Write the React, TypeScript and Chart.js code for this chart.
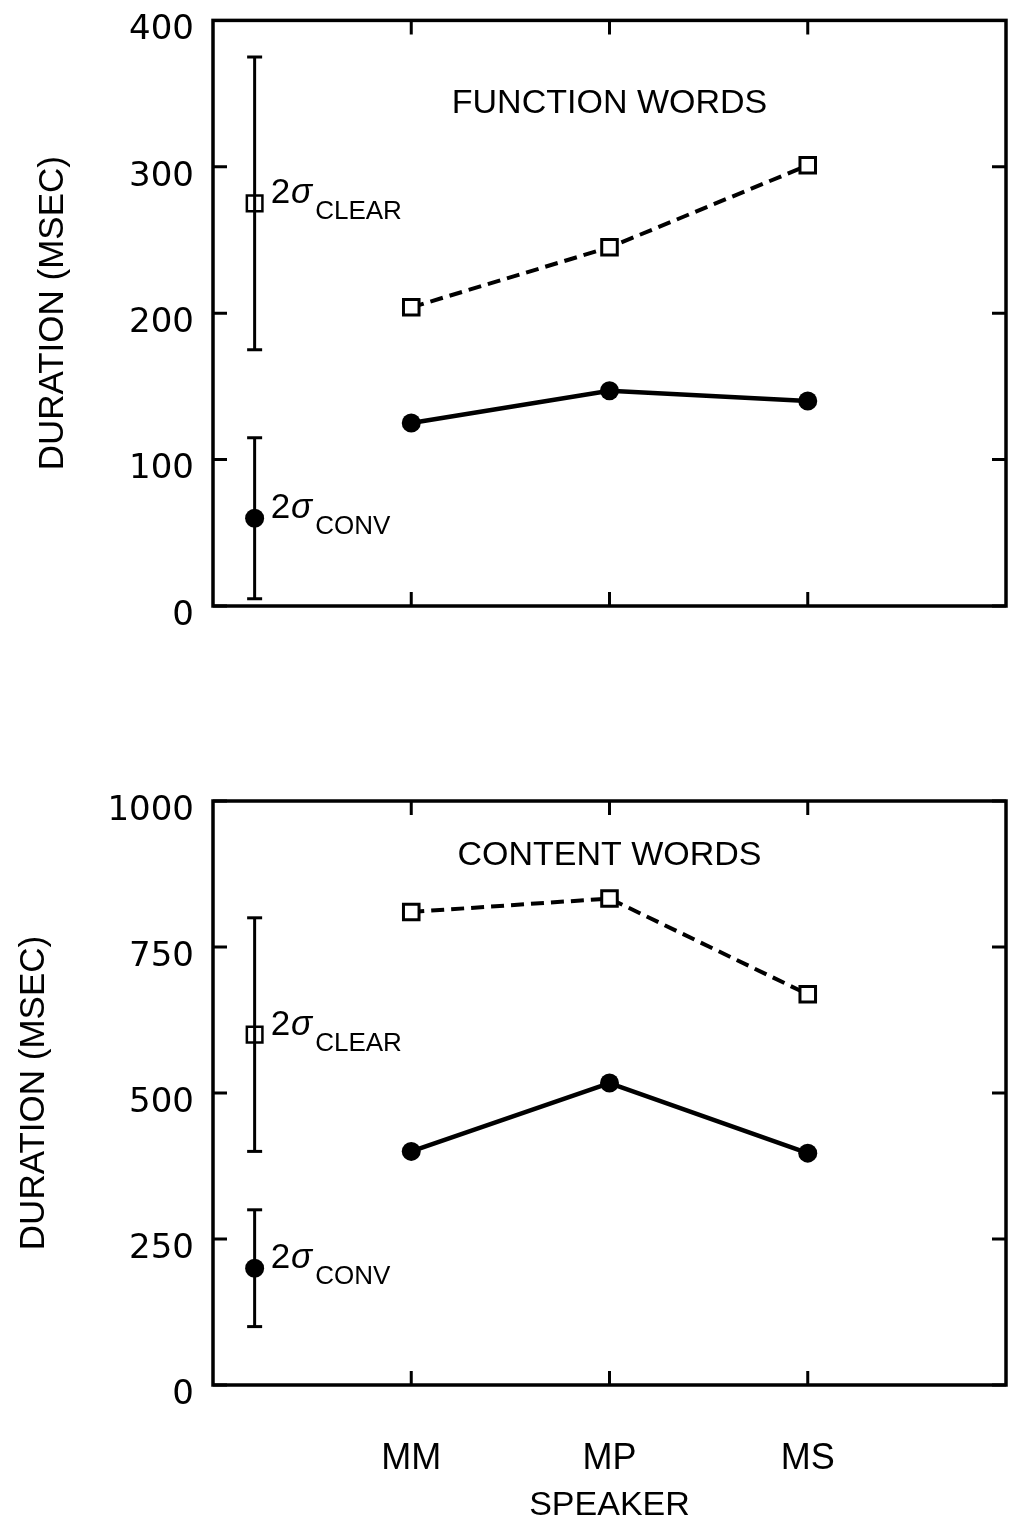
import { useEffect, useRef } from 'react';
import { Chart, registerables } from 'chart.js';

Chart.register(...registerables);

// ---------- data ----------
const speakers = ['MM', 'MP', 'MS'];
const speakerPos = [1, 2, 3];
const sigmaPos = 0.21;

const functionTicks = [0, 100, 200, 300, 400];
const functionClear = [204, 245, 301];
const functionConv = [125, 147, 140];
const functionClearSigma = [175, 275, 375]; // low, mean, high
const functionConvSigma = [5, 60, 115];

const contentTicks = [0, 250, 500, 750, 1000];
const contentClear = [810, 833, 669];
const contentConv = [400, 517, 397];
const contentClearSigma = [400, 600, 800];
const contentConvSigma = [100, 200, 300];

const yTitle = 'DURATION (MSEC)';
const xTitle = 'SPEAKER';
const clearName = 'CLEAR';
const convName = 'CONV';

const SANS = '"Liberation Sans", Arial, Helvetica, sans-serif';
const WIDE = '"DejaVu Sans", Verdana, sans-serif';

type PanelCfg = {
  title: string;
  titleX: number;
  titleY: number;
  ticks: number[];
  clear: number[];
  conv: number[];
  clearSigma: number[];
  convSigma: number[];
  height: number;
  padTop: number;
  padBottom: number;
  xAxisHeight: number;
  showX: boolean;
  yTitlePad: number;
};

const framePlugin = {
  id: 'frame',
  afterDatasetsDraw(chart: any) {
    const { ctx, chartArea: a, scales } = chart;
    const x = scales.x;
    const y = scales.y;
    ctx.save();
    ctx.strokeStyle = '#000';
    ctx.lineWidth = 3.5;
    ctx.strokeRect(a.left, a.top, a.right - a.left, a.bottom - a.top);
    ctx.lineWidth = 3;
    const L = 14;
    ctx.beginPath();
    y.ticks.forEach((t: any) => {
      const py = y.getPixelForValue(t.value);
      ctx.moveTo(a.left, py);
      ctx.lineTo(a.left + L, py);
      ctx.moveTo(a.right, py);
      ctx.lineTo(a.right - L, py);
    });
    x.ticks.forEach((t: any) => {
      const px = x.getPixelForValue(t.value);
      ctx.moveTo(px, a.top);
      ctx.lineTo(px, a.top + L);
      ctx.moveTo(px, a.bottom);
      ctx.lineTo(px, a.bottom - L);
    });
    ctx.stroke();
    ctx.restore();
  },
};

const textPlugin = {
  id: 'panelText',
  afterDraw(chart: any, _args: any, opts: any) {
    const { ctx, scales } = chart;
    const x = scales.x;
    const y = scales.y;
    ctx.save();
    ctx.fillStyle = '#000';
    ctx.font = `34px ${SANS}`;
    ctx.textAlign = 'center';
    ctx.textBaseline = 'middle';
    ctx.fillText(opts.title, x.getPixelForValue(opts.titleX), y.getPixelForValue(opts.titleY));
    ctx.textAlign = 'left';
    ctx.textBaseline = 'alphabetic';
    (opts.sigma || []).forEach((s: any) => {
      const px = x.getPixelForValue(s.x) + 16;
      const py = y.getPixelForValue(s.y);
      ctx.font = `35px ${SANS}`;
      ctx.fillText('2', px, py);
      const w2 = ctx.measureText('2').width;
      ctx.font = `italic 35px ${SANS}`;
      ctx.fillText('σ', px + w2 + 1, py);
      const ws = ctx.measureText('σ').width;
      ctx.font = `26px ${SANS}`;
      ctx.fillText(s.name, px + w2 + 1 + ws + 3, py + 16);
    });
    ctx.restore();
  },
};

function buildConfig(cfg: PanelCfg): any {
  const pts = (vals: number[]) => speakerPos.map((p, i) => ({ x: p, y: vals[i] }));
  const last = cfg.ticks[cfg.ticks.length - 1];
  return {
    type: 'line',
    data: {
      datasets: [
        {
          label: 'clear',
          data: pts(cfg.clear),
          borderColor: '#000',
          borderWidth: 4,
          borderDash: [13, 7],
          pointStyle: 'rect',
          pointRadius: 11,
          pointBackgroundColor: '#fff',
          pointBorderColor: '#000',
          pointBorderWidth: 3,
          fill: false,
          tension: 0,
        },
        {
          label: 'conversational',
          data: pts(cfg.conv),
          borderColor: '#000',
          borderWidth: 4.5,
          pointStyle: 'circle',
          pointRadius: 9.5,
          pointBackgroundColor: '#000',
          pointBorderColor: '#000',
          pointBorderWidth: 0,
          fill: false,
          tension: 0,
        },
        {
          label: 'clear 2 sigma',
          data: [
            { x: sigmaPos, y: cfg.clearSigma[0] },
            { x: sigmaPos, y: cfg.clearSigma[2] },
          ],
          borderColor: '#000',
          borderWidth: 3,
          pointStyle: 'line',
          pointRadius: 7.5,
          pointBorderColor: '#000',
          pointBorderWidth: 3,
        },
        {
          label: 'clear mean',
          data: [{ x: sigmaPos, y: cfg.clearSigma[1] }],
          showLine: false,
          pointStyle: 'rect',
          pointRadius: 11,
          pointBackgroundColor: 'rgba(0,0,0,0)',
          pointBorderColor: '#000',
          pointBorderWidth: 2.5,
        },
        {
          label: 'conv 2 sigma',
          data: [
            { x: sigmaPos, y: cfg.convSigma[0] },
            { x: sigmaPos, y: cfg.convSigma[2] },
          ],
          borderColor: '#000',
          borderWidth: 3,
          pointStyle: 'line',
          pointRadius: 7.5,
          pointBorderColor: '#000',
          pointBorderWidth: 3,
        },
        {
          label: 'conv mean',
          data: [{ x: sigmaPos, y: cfg.convSigma[1] }],
          showLine: false,
          pointStyle: 'circle',
          pointRadius: 9.5,
          pointBackgroundColor: '#000',
          pointBorderColor: '#000',
          pointBorderWidth: 0,
        },
      ],
    },
    options: {
      animation: false,
      responsive: false,
      events: [],
      layout: {
        autoPadding: false,
        padding: { top: cfg.padTop, right: 7, bottom: cfg.padBottom, left: 0 },
      },
      plugins: {
        legend: { display: false },
        tooltip: { enabled: false },
        panelText: {
          title: cfg.title,
          titleX: cfg.titleX,
          titleY: cfg.titleY,
          sigma: [
            { x: sigmaPos, y: cfg.clearSigma[1], name: clearName },
            { x: sigmaPos, y: cfg.convSigma[1], name: convName },
          ],
        },
      },
      scales: {
        x: {
          type: 'linear',
          min: 0,
          max: 4,
          afterBuildTicks: (s: any) => {
            s.ticks = speakerPos.map((v) => ({ value: v }));
          },
          afterFit: (s: any) => {
            s.height = cfg.xAxisHeight;
          },
          grid: { display: false, drawTicks: false },
          border: { display: false },
          ticks: {
            display: cfg.showX,
            padding: 52,
            color: '#000',
            autoSkip: false,
            maxRotation: 0,
            font: { family: SANS, size: 36 },
            callback: (v: number) => {
              const i = speakerPos.indexOf(v);
              return i >= 0 ? speakers[i] : '';
            },
          },
          title: {
            display: cfg.showX,
            text: xTitle,
            color: '#000',
            font: { family: SANS, size: 34 },
            padding: { top: 0, bottom: 6 },
          },
        },
        y: {
          type: 'linear',
          min: cfg.ticks[0],
          max: last,
          afterBuildTicks: (s: any) => {
            s.ticks = cfg.ticks.map((v) => ({ value: v }));
          },
          afterFit: (s: any) => {
            s.width = 213;
          },
          grid: { display: false, drawTicks: true, tickLength: 19 },
          border: { display: false },
          ticks: {
            padding: 0,
            labelOffset: 10,
            color: '#000',
            font: { family: WIDE, size: 34 },
            callback: (v: number) => String(v),
          },
          title: {
            display: true,
            text: yTitle,
            color: '#000',
            font: { family: SANS, size: 35 },
            padding: { top: cfg.yTitlePad, bottom: 0 },
          },
        },
      },
    },
    plugins: [framePlugin, textPlugin],
  };
}

const topPanel: PanelCfg = {
  title: 'FUNCTION WORDS',
  titleX: 2,
  titleY: 343,
  ticks: functionTicks,
  clear: functionClear,
  conv: functionConv,
  clearSigma: functionClearSigma,
  convSigma: functionConvSigma,
  height: 700,
  padTop: 20,
  padBottom: 94,
  xAxisHeight: 0,
  showX: false,
  yTitlePad: 32,
};

const bottomPanel: PanelCfg = {
  title: 'CONTENT WORDS',
  titleX: 2,
  titleY: 907,
  ticks: contentTicks,
  clear: contentClear,
  conv: contentConv,
  clearSigma: contentClearSigma,
  convSigma: contentConvSigma,
  height: 832,
  padTop: 101,
  padBottom: 0,
  xAxisHeight: 147,
  showX: true,
  yTitlePad: 13,
};

function Panel({ cfg }: { cfg: PanelCfg }) {
  const ref = useRef<HTMLCanvasElement>(null);
  useEffect(() => {
    const chart = new Chart(ref.current as HTMLCanvasElement, buildConfig(cfg));
    return () => chart.destroy();
  }, [cfg]);
  return (
    <canvas
      ref={ref}
      width={1013}
      height={cfg.height}
      style={{ display: 'block', width: 1013, height: cfg.height }}
    />
  );
}

export default function App() {
  return (
    <div
      style={{
        position: 'absolute',
        left: 0,
        top: 0,
        width: 1013,
        height: 1532,
        background: '#fff',
      }}
    >
      <Panel cfg={topPanel} />
      <Panel cfg={bottomPanel} />
    </div>
  );
}
